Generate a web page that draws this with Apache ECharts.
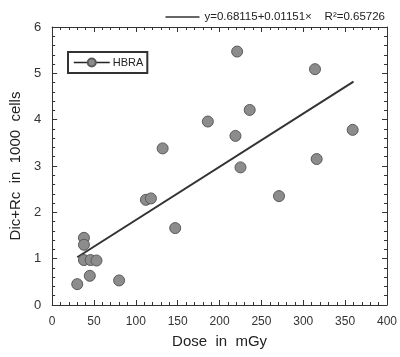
<!DOCTYPE html>
<html><head><meta charset="utf-8">
<script src="https://cdn.jsdelivr.net/npm/echarts@6/dist/echarts.min.js"></script>
<style>html,body{margin:0;padding:0;background:#fff}#c{width:400px;height:357px}</style>
</head><body><div id="c"></div>
<script>
const doseX = [30, 38, 38, 38, 46, 53, 45, 80, 112, 118, 132, 147, 186, 221, 219, 225, 236, 271, 314, 316, 359];
const cellsY = [0.45, 1.45, 1.30, 0.97, 0.97, 0.96, 0.63, 0.53, 2.27, 2.30, 3.38, 1.66, 3.96, 5.47, 3.65, 2.97, 4.21, 2.35, 5.09, 3.15, 3.78];
const fitX = [30, 360];
const fitY = [1.03, 4.82];
const xTicks = [0, 400, 50];
const yTicks = [0, 6, 1];
const seriesName = 'HBRA';
const fitName = 'y=0.68115+0.01151×    R²=0.65726';

const pts = doseX.map((x, i) => [x, cellsY[i]]);
const fit = fitX.map((x, i) => [x, fitY[i]]);
const font = 'Liberation Sans, Arial, sans-serif';
const tickBase = {show: true, inside: true, length: 5, lineStyle: {color: '#333', width: 1}};
const minorBase = {show: true, splitNumber: 5, length: 3, lineStyle: {color: '#333', width: 1}};

const chart = echarts.init(document.getElementById('c'));
chart.setOption({
  animation: false,
  backgroundColor: '#fff',
  grid: {left: 47, right: 12, top: 27, bottom: 52},
  legend: [
    {data: [seriesName], left: 68, top: 52, orient: 'horizontal', padding: [5, 4, 5, 5],
     borderColor: '#333', borderWidth: 2, itemWidth: 36, itemHeight: 10, itemGap: 2,
     textStyle: {fontFamily: font, fontSize: 11, color: '#222', padding: [0, 0, 0, -2]},
     lineStyle: {color: '#222', width: 1.5, opacity: 1}},
    {data: [{name: fitName, icon: 'rect'}], right: 10, top: 6, itemWidth: 34, itemHeight: 1.5, itemGap: 4,
     textStyle: {fontFamily: font, fontSize: 11.5, color: '#222'}}
  ],
  xAxis: [
    {type: 'value', min: xTicks[0], max: xTicks[1], interval: xTicks[2], position: 'bottom',
     name: 'Dose  in  mGy', nameLocation: 'middle', nameGap: 29,
     nameTextStyle: {fontFamily: font, fontSize: 15, color: '#222'},
     axisLine: {show: true, onZero: false, lineStyle: {color: '#333', width: 1}},
     axisTick: tickBase, minorTick: minorBase, splitLine: {show: false},
     axisLabel: {fontFamily: font, fontSize: 12, color: '#333', margin: 11}},
    {type: 'value', min: xTicks[0], max: xTicks[1], interval: xTicks[2], position: 'top',
     axisLine: {show: true, onZero: false, lineStyle: {color: '#333', width: 1}},
     axisTick: tickBase, minorTick: minorBase, splitLine: {show: false}, axisLabel: {show: false}}
  ],
  yAxis: [
    {type: 'value', min: yTicks[0], max: yTicks[1], interval: yTicks[2], position: 'left',
     name: 'Dic+Rc  in  1000  cells', nameLocation: 'middle', nameGap: 22,
     nameTextStyle: {fontFamily: font, fontSize: 15, color: '#222'},
     axisLine: {show: true, onZero: false, lineStyle: {color: '#333', width: 1}},
     axisTick: tickBase, minorTick: minorBase, splitLine: {show: false},
     axisLabel: {fontFamily: font, fontSize: 13, color: '#333', margin: 11}},
    {type: 'value', min: yTicks[0], max: yTicks[1], interval: yTicks[2], position: 'right',
     axisLine: {show: true, onZero: false, lineStyle: {color: '#333', width: 1}},
     axisTick: tickBase, minorTick: minorBase, splitLine: {show: false}, axisLabel: {show: false}}
  ],
  series: [
    {name: fitName, type: 'line', data: fit, showSymbol: false, symbol: 'none',
     lineStyle: {color: '#333', width: 2}, itemStyle: {color: '#333'}, z: 2},
    {name: seriesName, type: 'line', data: pts, symbol: 'circle', symbolSize: 11,
     lineStyle: {opacity: 0, width: 0}, itemStyle: {color: '#8c8c8c', borderColor: '#5a5a5a', borderWidth: 1}, z: 3}
  ]
});
</script></body></html>
